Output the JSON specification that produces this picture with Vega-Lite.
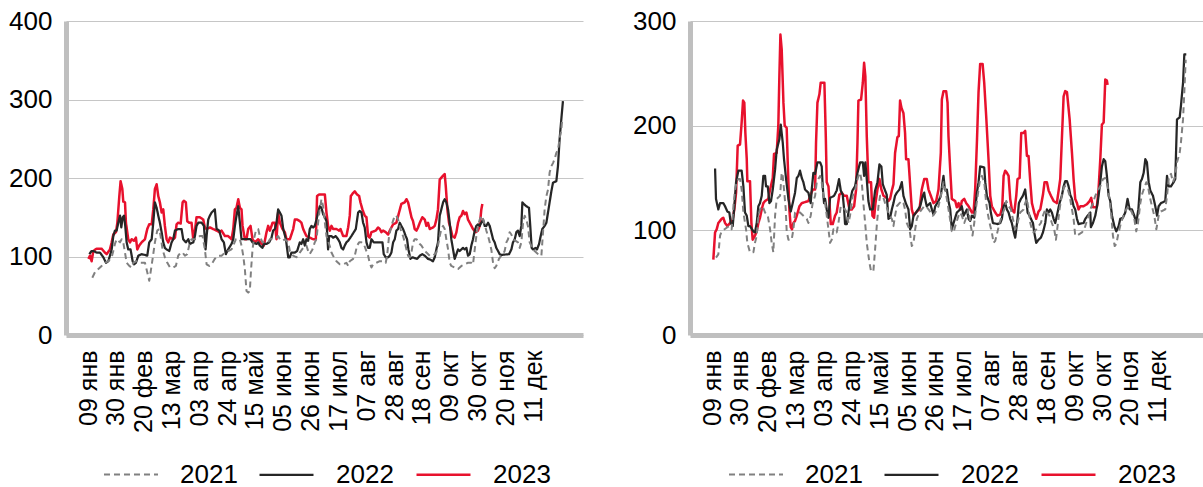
{
"$schema": "https://vega.github.io/schema/vega-lite/v6.json",
"padding": {"left": 0, "top": 8, "right": 0, "bottom": 0},
"background": "white",
"config": {
  "font": "Liberation Sans",
  "view": {"stroke": null},
  "concat": {"spacing": 41},
  "axis": {"labelFont": "Liberation Sans", "labelColor": "#000000", "domainColor": "#bfbfbf", "domainWidth": 5, "ticks": false, "tickSize": 0, "title": null},
  "legend": {"labelFont": "Liberation Sans", "labelColor": "#000000"}
},
"datasets": {
"L": [
{"year":"2023","i":19.3,"v":97},{"year":"2023","i":20.7,"v":101},{"year":"2023","i":22.1,"v":94},{"year":"2023","i":23.6,"v":107},{"year":"2023","i":26.4,"v":110},{"year":"2023","i":30.7,"v":110},{"year":"2023","i":33.6,"v":105},{"year":"2023","i":35.1,"v":103},{"year":"2023","i":37.9,"v":109},{"year":"2023","i":39.4,"v":118},{"year":"2023","i":40.8,"v":128},{"year":"2023","i":43.1,"v":131},{"year":"2023","i":44.3,"v":143},{"year":"2023","i":46,"v":177},{"year":"2023","i":47.1,"v":196},{"year":"2023","i":48.6,"v":186},{"year":"2023","i":49.4,"v":170},{"year":"2023","i":50.9,"v":169},{"year":"2023","i":51.7,"v":143},{"year":"2023","i":53.7,"v":122},{"year":"2023","i":55.2,"v":118},{"year":"2023","i":56.6,"v":122},{"year":"2023","i":58.6,"v":120},{"year":"2023","i":60.3,"v":124},{"year":"2023","i":61.5,"v":109},{"year":"2023","i":63.2,"v":114},{"year":"2023","i":65.2,"v":118},{"year":"2023","i":68.1,"v":122},{"year":"2023","i":70.1,"v":135},{"year":"2023","i":71.8,"v":141},{"year":"2023","i":73.9,"v":141},{"year":"2023","i":75.3,"v":160},{"year":"2023","i":76.7,"v":186},{"year":"2023","i":78.2,"v":192},{"year":"2023","i":79.6,"v":177},{"year":"2023","i":81,"v":169},{"year":"2023","i":82.5,"v":156},{"year":"2023","i":83.9,"v":160},{"year":"2023","i":85.3,"v":139},{"year":"2023","i":86.8,"v":122},{"year":"2023","i":88.2,"v":118},{"year":"2023","i":89.7,"v":124},{"year":"2023","i":92.5,"v":122},{"year":"2023","i":94,"v":124},{"year":"2023","i":95.4,"v":141},{"year":"2023","i":96.8,"v":143},{"year":"2023","i":98.9,"v":142},{"year":"2023","i":100.6,"v":169},{"year":"2023","i":101.7,"v":171},{"year":"2023","i":103.4,"v":169},{"year":"2023","i":104.6,"v":145},{"year":"2023","i":106.3,"v":143},{"year":"2023","i":108.3,"v":143},{"year":"2023","i":109.8,"v":122},{"year":"2023","i":111.2,"v":133},{"year":"2023","i":112.6,"v":150},{"year":"2023","i":115.5,"v":150},{"year":"2023","i":118.4,"v":147},{"year":"2023","i":119.8,"v":137},{"year":"2023","i":121.3,"v":135},{"year":"2023","i":124.1,"v":137},{"year":"2023","i":127,"v":135},{"year":"2023","i":129.9,"v":133},{"year":"2023","i":132.2,"v":131},{"year":"2023","i":134.2,"v":133},{"year":"2023","i":137.1,"v":126},{"year":"2023","i":139.9,"v":126},{"year":"2023","i":142.8,"v":122},{"year":"2023","i":144.3,"v":135},{"year":"2023","i":145.7,"v":160},{"year":"2023","i":147.1,"v":162},{"year":"2023","i":148.6,"v":173},{"year":"2023","i":150,"v":162},{"year":"2023","i":151.4,"v":160},{"year":"2023","i":152.3,"v":139},{"year":"2023","i":154.3,"v":122},{"year":"2023","i":155.7,"v":122},{"year":"2023","i":157.2,"v":135},{"year":"2023","i":159.2,"v":139},{"year":"2023","i":160.9,"v":122},{"year":"2023","i":162.9,"v":118},{"year":"2023","i":165.8,"v":122},{"year":"2023","i":168.7,"v":116},{"year":"2023","i":170.7,"v":114},{"year":"2023","i":173,"v":131},{"year":"2023","i":174.4,"v":139},{"year":"2023","i":175.9,"v":133},{"year":"2023","i":178.2,"v":143},{"year":"2023","i":180.2,"v":143},{"year":"2023","i":181.6,"v":122},{"year":"2023","i":183,"v":156},{"year":"2023","i":184.5,"v":143},{"year":"2023","i":186.8,"v":135},{"year":"2023","i":188.8,"v":131},{"year":"2023","i":190.2,"v":122},{"year":"2023","i":193.1,"v":122},{"year":"2023","i":196,"v":135},{"year":"2023","i":197.4,"v":147},{"year":"2023","i":199.4,"v":147},{"year":"2023","i":201.7,"v":145},{"year":"2023","i":203.1,"v":143},{"year":"2023","i":204.6,"v":135},{"year":"2023","i":207.4,"v":126},{"year":"2023","i":210.3,"v":124},{"year":"2023","i":213.2,"v":122},{"year":"2023","i":215.5,"v":122},{"year":"2023","i":216.6,"v":177},{"year":"2023","i":218.4,"v":179},{"year":"2023","i":223.3,"v":179},{"year":"2023","i":224.7,"v":156},{"year":"2023","i":226.1,"v":139},{"year":"2023","i":227.6,"v":133},{"year":"2023","i":229,"v":139},{"year":"2023","i":230.4,"v":135},{"year":"2023","i":233.3,"v":135},{"year":"2023","i":235.6,"v":133},{"year":"2023","i":236.8,"v":135},{"year":"2023","i":239.1,"v":126},{"year":"2023","i":241.9,"v":126},{"year":"2023","i":243.4,"v":137},{"year":"2023","i":244.8,"v":152},{"year":"2023","i":245.7,"v":177},{"year":"2023","i":247.7,"v":181},{"year":"2023","i":249.1,"v":183},{"year":"2023","i":251.1,"v":179},{"year":"2023","i":252.9,"v":177},{"year":"2023","i":254,"v":169},{"year":"2023","i":255.7,"v":160},{"year":"2023","i":257.7,"v":152},{"year":"2023","i":259.2,"v":150},{"year":"2023","i":260.6,"v":126},{"year":"2023","i":262,"v":124},{"year":"2023","i":263.5,"v":131},{"year":"2023","i":267.2,"v":133},{"year":"2023","i":269.2,"v":137},{"year":"2023","i":270.7,"v":135},{"year":"2023","i":272.1,"v":131},{"year":"2023","i":273.5,"v":133},{"year":"2023","i":275.8,"v":131},{"year":"2023","i":277.9,"v":128},{"year":"2023","i":279.3,"v":133},{"year":"2023","i":282.2,"v":141},{"year":"2023","i":285,"v":143},{"year":"2023","i":287.3,"v":156},{"year":"2023","i":289.3,"v":167},{"year":"2023","i":292.2,"v":169},{"year":"2023","i":293.7,"v":173},{"year":"2023","i":295.1,"v":169},{"year":"2023","i":296.5,"v":160},{"year":"2023","i":298,"v":150},{"year":"2023","i":299.4,"v":145},{"year":"2023","i":300.8,"v":135},{"year":"2023","i":302.3,"v":133},{"year":"2023","i":303.7,"v":137},{"year":"2023","i":305.2,"v":143},{"year":"2023","i":307.4,"v":150},{"year":"2023","i":309.5,"v":147},{"year":"2023","i":310.9,"v":139},{"year":"2023","i":312.3,"v":143},{"year":"2023","i":313.8,"v":135},{"year":"2023","i":316.6,"v":137},{"year":"2023","i":318.1,"v":139},{"year":"2023","i":319.5,"v":147},{"year":"2023","i":320.9,"v":160},{"year":"2023","i":322.4,"v":198},{"year":"2023","i":325.3,"v":203},{"year":"2023","i":326.7,"v":205},{"year":"2023","i":327.6,"v":190},{"year":"2023","i":329,"v":160},{"year":"2023","i":330.4,"v":143},{"year":"2023","i":331.6,"v":137},{"year":"2023","i":333.3,"v":126},{"year":"2023","i":335.3,"v":124},{"year":"2023","i":336.8,"v":131},{"year":"2023","i":338.2,"v":143},{"year":"2023","i":339.6,"v":150},{"year":"2023","i":341.1,"v":152},{"year":"2023","i":342.5,"v":158},{"year":"2023","i":343.9,"v":154},{"year":"2023","i":345.4,"v":156},{"year":"2023","i":346.8,"v":147},{"year":"2023","i":348.3,"v":143},{"year":"2023","i":349.7,"v":139},{"year":"2023","i":351.1,"v":135},{"year":"2023","i":353.4,"v":131},{"year":"2023","i":355.4,"v":133},{"year":"2023","i":356.9,"v":139},{"year":"2023","i":358.3,"v":160},{"year":"2023","i":359.2,"v":167},
{"year":"2022","i":20.1,"v":103},{"year":"2022","i":22.1,"v":107},{"year":"2022","i":23.6,"v":107},{"year":"2022","i":26.4,"v":105},{"year":"2022","i":29.3,"v":105},{"year":"2022","i":32.2,"v":99},{"year":"2022","i":34.5,"v":92},{"year":"2022","i":36.5,"v":94},{"year":"2022","i":37.9,"v":101},{"year":"2022","i":39.4,"v":109},{"year":"2022","i":40.8,"v":126},{"year":"2022","i":42.2,"v":133},{"year":"2022","i":43.7,"v":133},{"year":"2022","i":45.1,"v":143},{"year":"2022","i":46.6,"v":152},{"year":"2022","i":47.7,"v":137},{"year":"2022","i":48.9,"v":150},{"year":"2022","i":50,"v":152},{"year":"2022","i":51.1,"v":139},{"year":"2022","i":52.3,"v":118},{"year":"2022","i":53.7,"v":109},{"year":"2022","i":55.7,"v":109},{"year":"2022","i":57.5,"v":94},{"year":"2022","i":58.6,"v":90},{"year":"2022","i":60.3,"v":92},{"year":"2022","i":62.4,"v":101},{"year":"2022","i":65.2,"v":103},{"year":"2022","i":68.1,"v":102},{"year":"2022","i":70.1,"v":101},{"year":"2022","i":71.8,"v":118},{"year":"2022","i":73.9,"v":122},{"year":"2022","i":75.3,"v":143},{"year":"2022","i":76.7,"v":169},{"year":"2022","i":78.2,"v":162},{"year":"2022","i":79.6,"v":152},{"year":"2022","i":81,"v":143},{"year":"2022","i":82.5,"v":131},{"year":"2022","i":83.9,"v":118},{"year":"2022","i":85.3,"v":111},{"year":"2022","i":86.8,"v":109},{"year":"2022","i":89.1,"v":107},{"year":"2022","i":91.1,"v":118},{"year":"2022","i":92.5,"v":122},{"year":"2022","i":94,"v":133},{"year":"2022","i":96.8,"v":135},{"year":"2022","i":99.7,"v":135},{"year":"2022","i":101.1,"v":122},{"year":"2022","i":103.4,"v":118},{"year":"2022","i":105.5,"v":122},{"year":"2022","i":106.9,"v":116},{"year":"2022","i":109.8,"v":118},{"year":"2022","i":111.2,"v":126},{"year":"2022","i":112.6,"v":139},{"year":"2022","i":114.1,"v":143},{"year":"2022","i":117,"v":143},{"year":"2022","i":119,"v":139},{"year":"2022","i":120.4,"v":109},{"year":"2022","i":121.3,"v":126},{"year":"2022","i":122.7,"v":147},{"year":"2022","i":124.1,"v":152},{"year":"2022","i":125.6,"v":156},{"year":"2022","i":127,"v":158},{"year":"2022","i":128.4,"v":160},{"year":"2022","i":129.9,"v":135},{"year":"2022","i":132.2,"v":133},{"year":"2022","i":134.2,"v":122},{"year":"2022","i":136.2,"v":118},{"year":"2022","i":137.9,"v":103},{"year":"2022","i":139.9,"v":109},{"year":"2022","i":142.8,"v":116},{"year":"2022","i":144.3,"v":122},{"year":"2022","i":145.7,"v":139},{"year":"2022","i":147.1,"v":152},{"year":"2022","i":148.6,"v":164},{"year":"2022","i":150,"v":143},{"year":"2022","i":151.4,"v":122},{"year":"2022","i":154.3,"v":122},{"year":"2022","i":159.2,"v":122},{"year":"2022","i":160.9,"v":118},{"year":"2022","i":164.4,"v":116},{"year":"2022","i":165.8,"v":118},{"year":"2022","i":167.2,"v":114},{"year":"2022","i":169.5,"v":111},{"year":"2022","i":170.7,"v":116},{"year":"2022","i":173,"v":116},{"year":"2022","i":175.3,"v":118},{"year":"2022","i":177.3,"v":124},{"year":"2022","i":178.7,"v":133},{"year":"2022","i":180.2,"v":135},{"year":"2022","i":181.6,"v":143},{"year":"2022","i":183,"v":160},{"year":"2022","i":184.5,"v":156},{"year":"2022","i":185.9,"v":152},{"year":"2022","i":187.4,"v":135},{"year":"2022","i":189.7,"v":122},{"year":"2022","i":191.7,"v":99},{"year":"2022","i":193.1,"v":99},{"year":"2022","i":194.5,"v":105},{"year":"2022","i":197.4,"v":105},{"year":"2022","i":199.4,"v":107},{"year":"2022","i":201.7,"v":118},{"year":"2022","i":203.1,"v":116},{"year":"2022","i":204.6,"v":122},{"year":"2022","i":206,"v":114},{"year":"2022","i":207.4,"v":122},{"year":"2022","i":208.9,"v":120},{"year":"2022","i":210.3,"v":135},{"year":"2022","i":211.8,"v":139},{"year":"2022","i":213.2,"v":137},{"year":"2022","i":214.6,"v":139},{"year":"2022","i":216.1,"v":147},{"year":"2022","i":217.5,"v":156},{"year":"2022","i":218.9,"v":164},{"year":"2022","i":220.4,"v":162},{"year":"2022","i":221.8,"v":154},{"year":"2022","i":223.3,"v":150},{"year":"2022","i":224.7,"v":145},{"year":"2022","i":226.1,"v":109},{"year":"2022","i":227,"v":126},{"year":"2022","i":229,"v":126},{"year":"2022","i":230.4,"v":124},{"year":"2022","i":232.7,"v":126},{"year":"2022","i":234.7,"v":122},{"year":"2022","i":236.2,"v":118},{"year":"2022","i":237.6,"v":111},{"year":"2022","i":239.1,"v":109},{"year":"2022","i":240.5,"v":114},{"year":"2022","i":241.9,"v":118},{"year":"2022","i":243.4,"v":120},{"year":"2022","i":246.2,"v":126},{"year":"2022","i":248.3,"v":131},{"year":"2022","i":250,"v":135},{"year":"2022","i":252,"v":156},{"year":"2022","i":253.4,"v":158},{"year":"2022","i":254.9,"v":156},{"year":"2022","i":256.3,"v":143},{"year":"2022","i":257.7,"v":137},{"year":"2022","i":259.2,"v":118},{"year":"2022","i":260.6,"v":111},{"year":"2022","i":262,"v":111},{"year":"2022","i":263.5,"v":122},{"year":"2022","i":265.5,"v":118},{"year":"2022","i":273,"v":118},{"year":"2022","i":274.1,"v":103},{"year":"2022","i":275.8,"v":99},{"year":"2022","i":277.9,"v":99},{"year":"2022","i":279.3,"v":101},{"year":"2022","i":280.7,"v":105},{"year":"2022","i":282.2,"v":118},{"year":"2022","i":283.6,"v":122},{"year":"2022","i":285,"v":133},{"year":"2022","i":286.5,"v":135},{"year":"2022","i":287.9,"v":143},{"year":"2022","i":289.3,"v":139},{"year":"2022","i":290.8,"v":135},{"year":"2022","i":293.1,"v":126},{"year":"2022","i":294.2,"v":122},{"year":"2022","i":295.4,"v":109},{"year":"2022","i":297.1,"v":97},{"year":"2022","i":298.8,"v":99},{"year":"2022","i":302.9,"v":97},{"year":"2022","i":305.2,"v":101},{"year":"2022","i":307.4,"v":103},{"year":"2022","i":309.5,"v":101},{"year":"2022","i":312.3,"v":97},{"year":"2022","i":314.3,"v":96},{"year":"2022","i":316.6,"v":94},{"year":"2022","i":318.1,"v":99},{"year":"2022","i":319.5,"v":109},{"year":"2022","i":320.9,"v":118},{"year":"2022","i":322.4,"v":152},{"year":"2022","i":323.8,"v":160},{"year":"2022","i":325.3,"v":169},{"year":"2022","i":326.7,"v":173},{"year":"2022","i":328.1,"v":169},{"year":"2022","i":329.6,"v":160},{"year":"2022","i":331,"v":143},{"year":"2022","i":332.4,"v":122},{"year":"2022","i":333.9,"v":109},{"year":"2022","i":335.3,"v":97},{"year":"2022","i":336.8,"v":103},{"year":"2022","i":338.2,"v":109},{"year":"2022","i":339.6,"v":107},{"year":"2022","i":342.5,"v":111},{"year":"2022","i":343.9,"v":109},{"year":"2022","i":345.4,"v":111},{"year":"2022","i":346.8,"v":101},{"year":"2022","i":348.3,"v":103},{"year":"2022","i":349.7,"v":114},{"year":"2022","i":351.1,"v":122},{"year":"2022","i":352.6,"v":133},{"year":"2022","i":354,"v":139},{"year":"2022","i":355.4,"v":141},{"year":"2022","i":356.9,"v":139},{"year":"2022","i":358.3,"v":143},{"year":"2022","i":359.8,"v":147},{"year":"2022","i":361.2,"v":139},{"year":"2022","i":362.6,"v":139},{"year":"2022","i":364.1,"v":143},{"year":"2022","i":365.5,"v":139},{"year":"2022","i":366.9,"v":131},{"year":"2022","i":368.4,"v":122},{"year":"2022","i":369.8,"v":118},{"year":"2022","i":371.2,"v":111},{"year":"2022","i":372.7,"v":107},{"year":"2022","i":374.1,"v":103},{"year":"2022","i":375.5,"v":102},{"year":"2022","i":382.2,"v":103},{"year":"2022","i":384.2,"v":109},{"year":"2022","i":385.6,"v":118},{"year":"2022","i":387.1,"v":122},{"year":"2022","i":388.5,"v":131},{"year":"2022","i":389.9,"v":133},{"year":"2022","i":391.4,"v":126},{"year":"2022","i":392.8,"v":139},{"year":"2022","i":393.7,"v":169},{"year":"2022","i":394.8,"v":167},{"year":"2022","i":397.1,"v":164},{"year":"2022","i":399.4,"v":162},{"year":"2022","i":400.6,"v":137},{"year":"2022","i":401.7,"v":111},{"year":"2022","i":402.9,"v":109},{"year":"2022","i":405.2,"v":111},{"year":"2022","i":406.3,"v":109},{"year":"2022","i":408.1,"v":116},{"year":"2022","i":409.2,"v":124},{"year":"2022","i":410.9,"v":135},{"year":"2022","i":412.9,"v":139},{"year":"2022","i":414.4,"v":143},{"year":"2022","i":415.8,"v":156},{"year":"2022","i":417.2,"v":169},{"year":"2022","i":418.7,"v":183},{"year":"2022","i":420.1,"v":194},{"year":"2022","i":423,"v":196},{"year":"2022","i":424.4,"v":215},{"year":"2022","i":425.8,"v":249},{"year":"2022","i":427.3,"v":275},{"year":"2022","i":428.7,"v":298},
{"year":"2021","i":22.7,"v":73},{"year":"2021","i":25,"v":80},{"year":"2021","i":27.9,"v":84},{"year":"2021","i":30.7,"v":88},{"year":"2021","i":33.6,"v":92},{"year":"2021","i":36.5,"v":94},{"year":"2021","i":39.4,"v":99},{"year":"2021","i":40.8,"v":107},{"year":"2021","i":42.2,"v":116},{"year":"2021","i":43.7,"v":122},{"year":"2021","i":45.1,"v":120},{"year":"2021","i":46.6,"v":118},{"year":"2021","i":48,"v":122},{"year":"2021","i":49.4,"v":118},{"year":"2021","i":50.9,"v":105},{"year":"2021","i":52.3,"v":92},{"year":"2021","i":54.6,"v":88},{"year":"2021","i":56.6,"v":86},{"year":"2021","i":58,"v":92},{"year":"2021","i":60.9,"v":94},{"year":"2021","i":63.8,"v":92},{"year":"2021","i":68.1,"v":92},{"year":"2021","i":70.1,"v":80},{"year":"2021","i":71.8,"v":69},{"year":"2021","i":73,"v":80},{"year":"2021","i":74.7,"v":97},{"year":"2021","i":76.7,"v":118},{"year":"2021","i":78.7,"v":133},{"year":"2021","i":80.5,"v":135},{"year":"2021","i":81.6,"v":126},{"year":"2021","i":83.3,"v":109},{"year":"2021","i":85.3,"v":99},{"year":"2021","i":87.4,"v":92},{"year":"2021","i":89.7,"v":86},{"year":"2021","i":92.5,"v":86},{"year":"2021","i":94.8,"v":88},{"year":"2021","i":96.8,"v":101},{"year":"2021","i":98.9,"v":105},{"year":"2021","i":100.6,"v":105},{"year":"2021","i":102.6,"v":101},{"year":"2021","i":104.6,"v":103},{"year":"2021","i":106.9,"v":118},{"year":"2021","i":108.3,"v":122},{"year":"2021","i":112.6,"v":122},{"year":"2021","i":115.5,"v":126},{"year":"2021","i":117.8,"v":126},{"year":"2021","i":119.8,"v":109},{"year":"2021","i":121.3,"v":90},{"year":"2021","i":123.6,"v":88},{"year":"2021","i":125.6,"v":90},{"year":"2021","i":128.4,"v":97},{"year":"2021","i":131.3,"v":101},{"year":"2021","i":134.2,"v":101},{"year":"2021","i":137.1,"v":105},{"year":"2021","i":139.9,"v":107},{"year":"2021","i":142.8,"v":109},{"year":"2021","i":144.3,"v":114},{"year":"2021","i":146.6,"v":122},{"year":"2021","i":150,"v":122},{"year":"2021","i":151.4,"v":114},{"year":"2021","i":152.9,"v":101},{"year":"2021","i":154.3,"v":84},{"year":"2021","i":155.7,"v":56},{"year":"2021","i":157.2,"v":54},{"year":"2021","i":158.6,"v":56},{"year":"2021","i":159.5,"v":80},{"year":"2021","i":160.9,"v":109},{"year":"2021","i":162.1,"v":122},{"year":"2021","i":163.8,"v":133},{"year":"2021","i":165.8,"v":135},{"year":"2021","i":167.2,"v":126},{"year":"2021","i":169.5,"v":118},{"year":"2021","i":174.4,"v":118},{"year":"2021","i":175.9,"v":122},{"year":"2021","i":181.6,"v":124},{"year":"2021","i":183,"v":126},{"year":"2021","i":184.5,"v":122},{"year":"2021","i":186.8,"v":120},{"year":"2021","i":188.8,"v":122},{"year":"2021","i":191.7,"v":118},{"year":"2021","i":193.1,"v":107},{"year":"2021","i":196,"v":101},{"year":"2021","i":198.9,"v":99},{"year":"2021","i":201.7,"v":105},{"year":"2021","i":204.6,"v":111},{"year":"2021","i":207.4,"v":114},{"year":"2021","i":208.9,"v":107},{"year":"2021","i":210.3,"v":103},{"year":"2021","i":212.6,"v":109},{"year":"2021","i":214.6,"v":118},{"year":"2021","i":216.1,"v":122},{"year":"2021","i":217.5,"v":143},{"year":"2021","i":218.9,"v":160},{"year":"2021","i":220.4,"v":173},{"year":"2021","i":221.8,"v":164},{"year":"2021","i":223.3,"v":143},{"year":"2021","i":224.7,"v":126},{"year":"2021","i":227.6,"v":113},{"year":"2021","i":229,"v":105},{"year":"2021","i":230.4,"v":101},{"year":"2021","i":233.3,"v":94},{"year":"2021","i":236.2,"v":90},{"year":"2021","i":239.1,"v":90},{"year":"2021","i":241.9,"v":92},{"year":"2021","i":243.4,"v":88},{"year":"2021","i":244.8,"v":94},{"year":"2021","i":247.7,"v":97},{"year":"2021","i":249.1,"v":101},{"year":"2021","i":251.1,"v":114},{"year":"2021","i":252.9,"v":118},{"year":"2021","i":254.9,"v":118},{"year":"2021","i":256.9,"v":116},{"year":"2021","i":258.6,"v":109},{"year":"2021","i":260.6,"v":101},{"year":"2021","i":262,"v":92},{"year":"2021","i":263.5,"v":86},{"year":"2021","i":264.9,"v":90},{"year":"2021","i":267.8,"v":92},{"year":"2021","i":270.7,"v":94},{"year":"2021","i":273.5,"v":94},{"year":"2021","i":275.8,"v":92},{"year":"2021","i":277,"v":101},{"year":"2021","i":278.7,"v":126},{"year":"2021","i":280.7,"v":139},{"year":"2021","i":283.6,"v":152},{"year":"2021","i":285,"v":152},{"year":"2021","i":286.5,"v":147},{"year":"2021","i":287.9,"v":139},{"year":"2021","i":289.3,"v":131},{"year":"2021","i":290.8,"v":126},{"year":"2021","i":292.2,"v":118},{"year":"2021","i":293.7,"v":109},{"year":"2021","i":295.1,"v":101},{"year":"2021","i":296.5,"v":99},{"year":"2021","i":298,"v":105},{"year":"2021","i":299.4,"v":118},{"year":"2021","i":300.8,"v":122},{"year":"2021","i":302.3,"v":122},{"year":"2021","i":303.7,"v":120},{"year":"2021","i":305.2,"v":116},{"year":"2021","i":306.6,"v":114},{"year":"2021","i":308.6,"v":109},{"year":"2021","i":310.9,"v":105},{"year":"2021","i":313.8,"v":101},{"year":"2021","i":316.6,"v":101},{"year":"2021","i":319.5,"v":105},{"year":"2021","i":320.9,"v":114},{"year":"2021","i":322.4,"v":126},{"year":"2021","i":323.8,"v":135},{"year":"2021","i":325.3,"v":139},{"year":"2021","i":326.7,"v":135},{"year":"2021","i":328.1,"v":122},{"year":"2021","i":329.6,"v":109},{"year":"2021","i":331,"v":92},{"year":"2021","i":332.4,"v":88},{"year":"2021","i":335.3,"v":86},{"year":"2021","i":338.2,"v":84},{"year":"2021","i":341.1,"v":88},{"year":"2021","i":343.9,"v":90},{"year":"2021","i":346.8,"v":92},{"year":"2021","i":349.7,"v":92},{"year":"2021","i":351.1,"v":90},{"year":"2021","i":352.6,"v":109},{"year":"2021","i":354,"v":126},{"year":"2021","i":355.4,"v":139},{"year":"2021","i":356.9,"v":147},{"year":"2021","i":358.3,"v":152},{"year":"2021","i":359.8,"v":147},{"year":"2021","i":361.2,"v":141},{"year":"2021","i":362.6,"v":133},{"year":"2021","i":364.1,"v":126},{"year":"2021","i":365.5,"v":118},{"year":"2021","i":366.9,"v":109},{"year":"2021","i":368.4,"v":92},{"year":"2021","i":369.8,"v":85},{"year":"2021","i":371.2,"v":88},{"year":"2021","i":373.5,"v":97},{"year":"2021","i":375.5,"v":101},{"year":"2021","i":377,"v":103},{"year":"2021","i":378.4,"v":107},{"year":"2021","i":379.9,"v":118},{"year":"2021","i":381.3,"v":122},{"year":"2021","i":382.7,"v":131},{"year":"2021","i":384.2,"v":128},{"year":"2021","i":385.6,"v":122},{"year":"2021","i":387.9,"v":120},{"year":"2021","i":389.9,"v":118},{"year":"2021","i":391.4,"v":111},{"year":"2021","i":392.8,"v":118},{"year":"2021","i":394.3,"v":143},{"year":"2021","i":395.7,"v":152},{"year":"2021","i":397.1,"v":147},{"year":"2021","i":398.5,"v":139},{"year":"2021","i":400,"v":118},{"year":"2021","i":402.9,"v":109},{"year":"2021","i":405.7,"v":105},{"year":"2021","i":408.6,"v":101},{"year":"2021","i":410.1,"v":101},{"year":"2021","i":410.9,"v":118},{"year":"2021","i":412.9,"v":160},{"year":"2021","i":414.4,"v":177},{"year":"2021","i":415.8,"v":185},{"year":"2021","i":417.2,"v":207},{"year":"2021","i":418.7,"v":215},{"year":"2021","i":420.1,"v":219},{"year":"2021","i":421.5,"v":224},{"year":"2021","i":423,"v":232},{"year":"2021","i":424.4,"v":236},{"year":"2021","i":425.8,"v":250},{"year":"2021","i":427.3,"v":262},{"year":"2021","i":428.1,"v":275}
],
"R": [
{"year":"2023","i":20.1,"v":72},{"year":"2023","i":21.6,"v":98},{"year":"2023","i":23,"v":101},{"year":"2023","i":24.4,"v":107},{"year":"2023","i":27.3,"v":111},{"year":"2023","i":28.7,"v":112},{"year":"2023","i":30.2,"v":107},{"year":"2023","i":32.2,"v":104},{"year":"2023","i":34.5,"v":107},{"year":"2023","i":36.8,"v":111},{"year":"2023","i":38.2,"v":120},{"year":"2023","i":39.7,"v":136},{"year":"2023","i":41.1,"v":181},{"year":"2023","i":43.1,"v":182},{"year":"2023","i":44.5,"v":203},{"year":"2023","i":45.7,"v":224},{"year":"2023","i":46.8,"v":222},{"year":"2023","i":47.7,"v":193},{"year":"2023","i":48.9,"v":168},{"year":"2023","i":49.4,"v":147},{"year":"2023","i":51.7,"v":147},{"year":"2023","i":52.9,"v":107},{"year":"2023","i":54,"v":91},{"year":"2023","i":56,"v":95},{"year":"2023","i":57.5,"v":99},{"year":"2023","i":58.9,"v":107},{"year":"2023","i":60.3,"v":112},{"year":"2023","i":61.8,"v":120},{"year":"2023","i":63.2,"v":126},{"year":"2023","i":64.7,"v":128},{"year":"2023","i":67.5,"v":130},{"year":"2023","i":69,"v":139},{"year":"2023","i":71.3,"v":150},{"year":"2023","i":72.4,"v":173},{"year":"2023","i":74.7,"v":174},{"year":"2023","i":76.1,"v":200},{"year":"2023","i":77,"v":247},{"year":"2023","i":77.9,"v":287},{"year":"2023","i":79,"v":273},{"year":"2023","i":80.5,"v":222},{"year":"2023","i":81.6,"v":200},{"year":"2023","i":83.3,"v":198},{"year":"2023","i":84.2,"v":165},{"year":"2023","i":85.6,"v":120},{"year":"2023","i":86.8,"v":103},{"year":"2023","i":87.9,"v":101},{"year":"2023","i":89.1,"v":107},{"year":"2023","i":90.5,"v":109},{"year":"2023","i":92,"v":114},{"year":"2023","i":94.3,"v":123},{"year":"2023","i":96.3,"v":126},{"year":"2023","i":102,"v":128},{"year":"2023","i":104,"v":134},{"year":"2023","i":105.7,"v":139},{"year":"2023","i":107.8,"v":139},{"year":"2023","i":108.6,"v":184},{"year":"2023","i":109.8,"v":222},{"year":"2023","i":111.5,"v":230},{"year":"2023","i":112.6,"v":241},{"year":"2023","i":115.8,"v":241},{"year":"2023","i":117,"v":190},{"year":"2023","i":117.8,"v":146},{"year":"2023","i":119.3,"v":142},{"year":"2023","i":121.3,"v":106},{"year":"2023","i":123,"v":106},{"year":"2023","i":125,"v":114},{"year":"2023","i":126.4,"v":117},{"year":"2023","i":128.7,"v":134},{"year":"2023","i":130.7,"v":136},{"year":"2023","i":132.8,"v":133},{"year":"2023","i":135.1,"v":133},{"year":"2023","i":137.4,"v":120},{"year":"2023","i":139.4,"v":120},{"year":"2023","i":141.4,"v":123},{"year":"2023","i":143.1,"v":139},{"year":"2023","i":144.3,"v":184},{"year":"2023","i":145.1,"v":224},{"year":"2023","i":147.4,"v":225},{"year":"2023","i":148.9,"v":241},{"year":"2023","i":150,"v":260},{"year":"2023","i":151.1,"v":247},{"year":"2023","i":152.3,"v":190},{"year":"2023","i":153.7,"v":146},{"year":"2023","i":156,"v":146},{"year":"2023","i":157.2,"v":114},{"year":"2023","i":158.6,"v":112},{"year":"2023","i":159.8,"v":126},{"year":"2023","i":161.5,"v":139},{"year":"2023","i":163.2,"v":149},{"year":"2023","i":164.9,"v":139},{"year":"2023","i":166.7,"v":133},{"year":"2023","i":169.5,"v":131},{"year":"2023","i":171,"v":128},{"year":"2023","i":172.4,"v":130},{"year":"2023","i":173.9,"v":138},{"year":"2023","i":175.3,"v":144},{"year":"2023","i":176.7,"v":174},{"year":"2023","i":178.7,"v":189},{"year":"2023","i":179.9,"v":190},{"year":"2023","i":181,"v":224},{"year":"2023","i":182.2,"v":217},{"year":"2023","i":183.9,"v":212},{"year":"2023","i":185.3,"v":193},{"year":"2023","i":186.2,"v":168},{"year":"2023","i":188.2,"v":168},{"year":"2023","i":191.1,"v":120},{"year":"2023","i":192.6,"v":114},{"year":"2023","i":195.4,"v":118},{"year":"2023","i":197.7,"v":120},{"year":"2023","i":199.7,"v":139},{"year":"2023","i":201.8,"v":149},{"year":"2023","i":204,"v":149},{"year":"2023","i":205.5,"v":139},{"year":"2023","i":207.5,"v":133},{"year":"2023","i":209.8,"v":126},{"year":"2023","i":212.1,"v":128},{"year":"2023","i":214.1,"v":139},{"year":"2023","i":216.1,"v":174},{"year":"2023","i":217,"v":225},{"year":"2023","i":218.4,"v":233},{"year":"2023","i":220.7,"v":233},{"year":"2023","i":221.9,"v":222},{"year":"2023","i":222.7,"v":190},{"year":"2023","i":224.2,"v":158},{"year":"2023","i":225.6,"v":130},{"year":"2023","i":228.5,"v":128},{"year":"2023","i":229.9,"v":122},{"year":"2023","i":231.4,"v":126},{"year":"2023","i":232.8,"v":120},{"year":"2023","i":234.2,"v":128},{"year":"2023","i":236.3,"v":130},{"year":"2023","i":238,"v":126},{"year":"2023","i":240,"v":123},{"year":"2023","i":242.9,"v":117},{"year":"2023","i":244.3,"v":117},{"year":"2023","i":245.7,"v":139},{"year":"2023","i":247.2,"v":184},{"year":"2023","i":248.6,"v":232},{"year":"2023","i":250,"v":259},{"year":"2023","i":252.1,"v":259},{"year":"2023","i":253.5,"v":241},{"year":"2023","i":255.2,"v":209},{"year":"2023","i":257.2,"v":168},{"year":"2023","i":258.7,"v":133},{"year":"2023","i":260.1,"v":123},{"year":"2023","i":263,"v":117},{"year":"2023","i":265,"v":114},{"year":"2023","i":267.3,"v":115},{"year":"2023","i":269,"v":122},{"year":"2023","i":270.2,"v":152},{"year":"2023","i":271.6,"v":157},{"year":"2023","i":273,"v":155},{"year":"2023","i":274.5,"v":152},{"year":"2023","i":275.9,"v":130},{"year":"2023","i":277.3,"v":120},{"year":"2023","i":279.4,"v":117},{"year":"2023","i":281.1,"v":133},{"year":"2023","i":282.2,"v":149},{"year":"2023","i":284,"v":150},{"year":"2023","i":285.4,"v":193},{"year":"2023","i":287.4,"v":193},{"year":"2023","i":288.8,"v":195},{"year":"2023","i":290.3,"v":171},{"year":"2023","i":291.7,"v":171},{"year":"2023","i":293.2,"v":146},{"year":"2023","i":294.6,"v":126},{"year":"2023","i":296.6,"v":117},{"year":"2023","i":298.3,"v":111},{"year":"2023","i":300.3,"v":118},{"year":"2023","i":301.8,"v":120},{"year":"2023","i":304.1,"v":134},{"year":"2023","i":305.5,"v":146},{"year":"2023","i":307.5,"v":146},{"year":"2023","i":309,"v":138},{"year":"2023","i":311,"v":133},{"year":"2023","i":313.3,"v":128},{"year":"2023","i":316.1,"v":126},{"year":"2023","i":319,"v":149},{"year":"2023","i":320.4,"v":187},{"year":"2023","i":321.9,"v":228},{"year":"2023","i":323.3,"v":233},{"year":"2023","i":324.8,"v":232},{"year":"2023","i":327.1,"v":206},{"year":"2023","i":329.1,"v":174},{"year":"2023","i":330.5,"v":149},{"year":"2023","i":331.9,"v":130},{"year":"2023","i":333.4,"v":126},{"year":"2023","i":334.8,"v":120},{"year":"2023","i":336.3,"v":123},{"year":"2023","i":339.1,"v":123},{"year":"2023","i":342,"v":125},{"year":"2023","i":344.3,"v":128},{"year":"2023","i":345.7,"v":131},{"year":"2023","i":347.2,"v":122},{"year":"2023","i":349.2,"v":122},{"year":"2023","i":350.6,"v":123},{"year":"2023","i":352,"v":139},{"year":"2023","i":353.5,"v":168},{"year":"2023","i":354.9,"v":201},{"year":"2023","i":356.4,"v":203},{"year":"2023","i":357.8,"v":244},{"year":"2023","i":359.2,"v":243},{"year":"2023","i":359.8,"v":239},
{"year":"2022","i":21.6,"v":159},{"year":"2022","i":22.4,"v":130},{"year":"2022","i":24.4,"v":120},{"year":"2022","i":25.9,"v":126},{"year":"2022","i":28.7,"v":126},{"year":"2022","i":30.2,"v":123},{"year":"2022","i":32.2,"v":118},{"year":"2022","i":33.9,"v":117},{"year":"2022","i":35.1,"v":107},{"year":"2022","i":36.8,"v":104},{"year":"2022","i":38.2,"v":123},{"year":"2022","i":39.7,"v":146},{"year":"2022","i":41.7,"v":157},{"year":"2022","i":44.5,"v":157},{"year":"2022","i":46,"v":142},{"year":"2022","i":47.4,"v":117},{"year":"2022","i":48.9,"v":114},{"year":"2022","i":50.3,"v":104},{"year":"2022","i":51.7,"v":104},{"year":"2022","i":54.6,"v":99},{"year":"2022","i":56,"v":98},{"year":"2022","i":57.5,"v":107},{"year":"2022","i":58.9,"v":123},{"year":"2022","i":60.3,"v":126},{"year":"2022","i":61.8,"v":133},{"year":"2022","i":63.2,"v":152},{"year":"2022","i":64.7,"v":152},{"year":"2022","i":65.5,"v":142},{"year":"2022","i":67,"v":142},{"year":"2022","i":68.4,"v":126},{"year":"2022","i":69.8,"v":128},{"year":"2022","i":71.3,"v":139},{"year":"2022","i":73.3,"v":158},{"year":"2022","i":74.7,"v":177},{"year":"2022","i":77,"v":187},{"year":"2022","i":78.2,"v":201},{"year":"2022","i":79.9,"v":184},{"year":"2022","i":81,"v":168},{"year":"2022","i":82.8,"v":149},{"year":"2022","i":84.8,"v":130},{"year":"2022","i":86.8,"v":118},{"year":"2022","i":88.5,"v":126},{"year":"2022","i":90.5,"v":136},{"year":"2022","i":92,"v":150},{"year":"2022","i":93.4,"v":152},{"year":"2022","i":94.8,"v":157},{"year":"2022","i":96.3,"v":150},{"year":"2022","i":97.7,"v":146},{"year":"2022","i":99.1,"v":139},{"year":"2022","i":102,"v":136},{"year":"2022","i":104,"v":126},{"year":"2022","i":104.9,"v":139},{"year":"2022","i":106.3,"v":155},{"year":"2022","i":107.8,"v":154},{"year":"2022","i":109.8,"v":165},{"year":"2022","i":112.1,"v":165},{"year":"2022","i":113.5,"v":161},{"year":"2022","i":114.4,"v":141},{"year":"2022","i":115.5,"v":126},{"year":"2022","i":116.4,"v":130},{"year":"2022","i":117.8,"v":120},{"year":"2022","i":119.3,"v":112},{"year":"2022","i":120.7,"v":131},{"year":"2022","i":124.1,"v":133},{"year":"2022","i":126.4,"v":138},{"year":"2022","i":128.4,"v":149},{"year":"2022","i":129.9,"v":138},{"year":"2022","i":131.6,"v":134},{"year":"2022","i":132.8,"v":120},{"year":"2022","i":133.6,"v":106},{"year":"2022","i":135.1,"v":106},{"year":"2022","i":136.5,"v":117},{"year":"2022","i":137.9,"v":128},{"year":"2022","i":139.9,"v":138},{"year":"2022","i":142.2,"v":142},{"year":"2022","i":144.3,"v":155},{"year":"2022","i":146.6,"v":165},{"year":"2022","i":148.9,"v":165},{"year":"2022","i":150,"v":152},{"year":"2022","i":151.1,"v":165},{"year":"2022","i":152.3,"v":149},{"year":"2022","i":153.7,"v":128},{"year":"2022","i":155.2,"v":120},{"year":"2022","i":157.5,"v":120},{"year":"2022","i":159.5,"v":138},{"year":"2022","i":161.5,"v":146},{"year":"2022","i":163.2,"v":163},{"year":"2022","i":164.9,"v":161},{"year":"2022","i":166.1,"v":144},{"year":"2022","i":168.1,"v":138},{"year":"2022","i":169.5,"v":134},{"year":"2022","i":171,"v":111},{"year":"2022","i":172.4,"v":112},{"year":"2022","i":173.9,"v":120},{"year":"2022","i":175.3,"v":126},{"year":"2022","i":176.7,"v":133},{"year":"2022","i":178.2,"v":136},{"year":"2022","i":180.5,"v":139},{"year":"2022","i":182.5,"v":146},{"year":"2022","i":183.9,"v":133},{"year":"2022","i":185.9,"v":126},{"year":"2022","i":188.2,"v":120},{"year":"2022","i":189.7,"v":101},{"year":"2022","i":191.1,"v":104},{"year":"2022","i":192.6,"v":114},{"year":"2022","i":195.4,"v":118},{"year":"2022","i":198.3,"v":123},{"year":"2022","i":200.6,"v":133},{"year":"2022","i":201.8,"v":136},{"year":"2022","i":202.6,"v":130},{"year":"2022","i":204,"v":123},{"year":"2022","i":206.9,"v":126},{"year":"2022","i":208.4,"v":120},{"year":"2022","i":209.8,"v":115},{"year":"2022","i":211.3,"v":123},{"year":"2022","i":214.1,"v":128},{"year":"2022","i":216.1,"v":133},{"year":"2022","i":217.3,"v":144},{"year":"2022","i":218.4,"v":152},{"year":"2022","i":219.6,"v":139},{"year":"2022","i":221.3,"v":139},{"year":"2022","i":222.7,"v":128},{"year":"2022","i":224.2,"v":120},{"year":"2022","i":225.6,"v":101},{"year":"2022","i":227.1,"v":107},{"year":"2022","i":229.9,"v":117},{"year":"2022","i":232.8,"v":120},{"year":"2022","i":234.2,"v":123},{"year":"2022","i":235.7,"v":114},{"year":"2022","i":238.6,"v":120},{"year":"2022","i":240,"v":111},{"year":"2022","i":241.4,"v":109},{"year":"2022","i":242.9,"v":114},{"year":"2022","i":244.9,"v":112},{"year":"2022","i":245.7,"v":120},{"year":"2022","i":247.2,"v":136},{"year":"2022","i":248.6,"v":146},{"year":"2022","i":250,"v":161},{"year":"2022","i":253.5,"v":160},{"year":"2022","i":254.4,"v":146},{"year":"2022","i":255.8,"v":133},{"year":"2022","i":258.1,"v":126},{"year":"2022","i":259.2,"v":117},{"year":"2022","i":261,"v":107},{"year":"2022","i":265,"v":106},{"year":"2022","i":267.3,"v":107},{"year":"2022","i":268.7,"v":111},{"year":"2022","i":270.2,"v":123},{"year":"2022","i":271.6,"v":126},{"year":"2022","i":273,"v":120},{"year":"2022","i":274.5,"v":117},{"year":"2022","i":275.9,"v":111},{"year":"2022","i":277.3,"v":107},{"year":"2022","i":278.8,"v":99},{"year":"2022","i":280.2,"v":93},{"year":"2022","i":281.1,"v":101},{"year":"2022","i":282.2,"v":111},{"year":"2022","i":283.4,"v":126},{"year":"2022","i":285.1,"v":130},{"year":"2022","i":286.8,"v":133},{"year":"2022","i":288.8,"v":139},{"year":"2022","i":289.7,"v":130},{"year":"2022","i":290.9,"v":117},{"year":"2022","i":292.6,"v":114},{"year":"2022","i":293.7,"v":111},{"year":"2022","i":295.5,"v":107},{"year":"2022","i":296.6,"v":98},{"year":"2022","i":298.3,"v":88},{"year":"2022","i":300.3,"v":91},{"year":"2022","i":302.3,"v":93},{"year":"2022","i":304.1,"v":98},{"year":"2022","i":306.1,"v":107},{"year":"2022","i":307.5,"v":120},{"year":"2022","i":309,"v":117},{"year":"2022","i":310.4,"v":120},{"year":"2022","i":311.8,"v":117},{"year":"2022","i":313.3,"v":111},{"year":"2022","i":314.7,"v":107},{"year":"2022","i":316.1,"v":114},{"year":"2022","i":318.4,"v":126},{"year":"2022","i":320.4,"v":133},{"year":"2022","i":321.9,"v":142},{"year":"2022","i":323.3,"v":147},{"year":"2022","i":324.8,"v":147},{"year":"2022","i":326.2,"v":142},{"year":"2022","i":327.6,"v":134},{"year":"2022","i":329.1,"v":130},{"year":"2022","i":330.5,"v":123},{"year":"2022","i":331.9,"v":120},{"year":"2022","i":333.4,"v":111},{"year":"2022","i":334.8,"v":106},{"year":"2022","i":339.1,"v":107},{"year":"2022","i":340.6,"v":111},{"year":"2022","i":342.6,"v":114},{"year":"2022","i":344.9,"v":117},{"year":"2022","i":345.4,"v":103},{"year":"2022","i":347.2,"v":107},{"year":"2022","i":349.2,"v":114},{"year":"2022","i":351.2,"v":126},{"year":"2022","i":353.5,"v":146},{"year":"2022","i":354.9,"v":161},{"year":"2022","i":356.4,"v":168},{"year":"2022","i":357.8,"v":166},{"year":"2022","i":359.2,"v":152},{"year":"2022","i":360.7,"v":133},{"year":"2022","i":362.1,"v":128},{"year":"2022","i":363.6,"v":114},{"year":"2022","i":365.6,"v":104},{"year":"2022","i":367.3,"v":99},{"year":"2022","i":369.3,"v":104},{"year":"2022","i":370.7,"v":111},{"year":"2022","i":373,"v":112},{"year":"2022","i":375,"v":117},{"year":"2022","i":377,"v":130},{"year":"2022","i":378.8,"v":120},{"year":"2022","i":380.8,"v":120},{"year":"2022","i":382.8,"v":114},{"year":"2022","i":384.5,"v":107},{"year":"2022","i":386.3,"v":120},{"year":"2022","i":388,"v":146},{"year":"2022","i":389.4,"v":149},{"year":"2022","i":390.9,"v":155},{"year":"2022","i":392.3,"v":168},{"year":"2022","i":393.7,"v":165},{"year":"2022","i":395.2,"v":146},{"year":"2022","i":396.6,"v":138},{"year":"2022","i":398.9,"v":133},{"year":"2022","i":400.9,"v":123},{"year":"2022","i":402.4,"v":114},{"year":"2022","i":403.8,"v":123},{"year":"2022","i":405.8,"v":126},{"year":"2022","i":409.5,"v":128},{"year":"2022","i":411,"v":152},{"year":"2022","i":412.4,"v":142},{"year":"2022","i":414.4,"v":142},{"year":"2022","i":416.7,"v":146},{"year":"2022","i":418.1,"v":149},{"year":"2022","i":419.6,"v":206},{"year":"2022","i":421.9,"v":208},{"year":"2022","i":423,"v":219},{"year":"2022","i":424.8,"v":241},{"year":"2022","i":425.9,"v":268},{"year":"2022","i":427.6,"v":268},
{"year":"2021","i":22.4,"v":74},{"year":"2021","i":24.4,"v":77},{"year":"2021","i":25.9,"v":95},{"year":"2021","i":27.3,"v":99},{"year":"2021","i":32.2,"v":103},{"year":"2021","i":33.9,"v":104},{"year":"2021","i":35.9,"v":101},{"year":"2021","i":37.4,"v":123},{"year":"2021","i":38.8,"v":139},{"year":"2021","i":40.2,"v":146},{"year":"2021","i":41.7,"v":149},{"year":"2021","i":43.1,"v":149},{"year":"2021","i":44.5,"v":139},{"year":"2021","i":46,"v":117},{"year":"2021","i":48.3,"v":101},{"year":"2021","i":49.4,"v":88},{"year":"2021","i":51.7,"v":79},{"year":"2021","i":54.6,"v":79},{"year":"2021","i":56,"v":88},{"year":"2021","i":57.5,"v":95},{"year":"2021","i":58.9,"v":114},{"year":"2021","i":60.3,"v":120},{"year":"2021","i":62.6,"v":123},{"year":"2021","i":64.7,"v":117},{"year":"2021","i":67,"v":114},{"year":"2021","i":69,"v":101},{"year":"2021","i":70.4,"v":88},{"year":"2021","i":71.8,"v":79},{"year":"2021","i":73.3,"v":114},{"year":"2021","i":74.7,"v":130},{"year":"2021","i":77.6,"v":133},{"year":"2021","i":79,"v":155},{"year":"2021","i":79.9,"v":152},{"year":"2021","i":81,"v":139},{"year":"2021","i":82.5,"v":120},{"year":"2021","i":83.3,"v":99},{"year":"2021","i":84.8,"v":91},{"year":"2021","i":87.6,"v":91},{"year":"2021","i":89.1,"v":101},{"year":"2021","i":90.5,"v":117},{"year":"2021","i":92,"v":118},{"year":"2021","i":94.8,"v":117},{"year":"2021","i":97.7,"v":114},{"year":"2021","i":100.6,"v":111},{"year":"2021","i":102,"v":107},{"year":"2021","i":104,"v":114},{"year":"2021","i":105.7,"v":126},{"year":"2021","i":107.8,"v":133},{"year":"2021","i":109.2,"v":146},{"year":"2021","i":110.6,"v":149},{"year":"2021","i":112.1,"v":152},{"year":"2021","i":113.5,"v":146},{"year":"2021","i":114.9,"v":133},{"year":"2021","i":116.4,"v":126},{"year":"2021","i":117.8,"v":114},{"year":"2021","i":119.3,"v":101},{"year":"2021","i":120.7,"v":88},{"year":"2021","i":122.1,"v":91},{"year":"2021","i":123.6,"v":101},{"year":"2021","i":126.4,"v":98},{"year":"2021","i":127.9,"v":107},{"year":"2021","i":129.9,"v":123},{"year":"2021","i":133.6,"v":120},{"year":"2021","i":135.1,"v":117},{"year":"2021","i":136.5,"v":107},{"year":"2021","i":137.9,"v":114},{"year":"2021","i":140.2,"v":133},{"year":"2021","i":142.2,"v":138},{"year":"2021","i":143.7,"v":146},{"year":"2021","i":145.1,"v":152},{"year":"2021","i":146.6,"v":155},{"year":"2021","i":148,"v":146},{"year":"2021","i":149.4,"v":126},{"year":"2021","i":150.9,"v":107},{"year":"2021","i":152.3,"v":88},{"year":"2021","i":154.6,"v":69},{"year":"2021","i":156,"v":61},{"year":"2021","i":158,"v":61},{"year":"2021","i":159.5,"v":82},{"year":"2021","i":160.9,"v":104},{"year":"2021","i":162.4,"v":123},{"year":"2021","i":163.8,"v":133},{"year":"2021","i":166.1,"v":133},{"year":"2021","i":168.1,"v":126},{"year":"2021","i":170.1,"v":120},{"year":"2021","i":171.8,"v":114},{"year":"2021","i":173.9,"v":111},{"year":"2021","i":175.3,"v":104},{"year":"2021","i":176.7,"v":114},{"year":"2021","i":178.2,"v":123},{"year":"2021","i":180.5,"v":126},{"year":"2021","i":182.5,"v":128},{"year":"2021","i":183.9,"v":126},{"year":"2021","i":185.3,"v":120},{"year":"2021","i":186.8,"v":107},{"year":"2021","i":189.1,"v":101},{"year":"2021","i":191.1,"v":85},{"year":"2021","i":192.6,"v":88},{"year":"2021","i":194,"v":101},{"year":"2021","i":195.4,"v":111},{"year":"2021","i":197.7,"v":117},{"year":"2021","i":199.7,"v":120},{"year":"2021","i":201.8,"v":123},{"year":"2021","i":203.5,"v":123},{"year":"2021","i":205.5,"v":120},{"year":"2021","i":207.5,"v":117},{"year":"2021","i":209.2,"v":114},{"year":"2021","i":211.3,"v":117},{"year":"2021","i":214.1,"v":123},{"year":"2021","i":216.1,"v":133},{"year":"2021","i":218.4,"v":146},{"year":"2021","i":219.9,"v":139},{"year":"2021","i":221.9,"v":126},{"year":"2021","i":223.6,"v":114},{"year":"2021","i":225.6,"v":99},{"year":"2021","i":227.1,"v":98},{"year":"2021","i":228.5,"v":104},{"year":"2021","i":231.4,"v":114},{"year":"2021","i":232.8,"v":117},{"year":"2021","i":234.2,"v":114},{"year":"2021","i":236.3,"v":107},{"year":"2021","i":238.6,"v":114},{"year":"2021","i":240,"v":120},{"year":"2021","i":242,"v":104},{"year":"2021","i":243.4,"v":95},{"year":"2021","i":244.9,"v":107},{"year":"2021","i":246.6,"v":123},{"year":"2021","i":248.6,"v":139},{"year":"2021","i":250,"v":149},{"year":"2021","i":251.5,"v":152},{"year":"2021","i":253.5,"v":146},{"year":"2021","i":255.2,"v":126},{"year":"2021","i":256.4,"v":117},{"year":"2021","i":258.1,"v":107},{"year":"2021","i":260.1,"v":98},{"year":"2021","i":261.5,"v":88},{"year":"2021","i":263,"v":90},{"year":"2021","i":265,"v":99},{"year":"2021","i":266.7,"v":107},{"year":"2021","i":268.7,"v":114},{"year":"2021","i":270.7,"v":120},{"year":"2021","i":272.5,"v":128},{"year":"2021","i":274.5,"v":123},{"year":"2021","i":276.5,"v":120},{"year":"2021","i":278.2,"v":111},{"year":"2021","i":280.2,"v":101},{"year":"2021","i":282.2,"v":107},{"year":"2021","i":284.5,"v":117},{"year":"2021","i":287.4,"v":120},{"year":"2021","i":288.8,"v":126},{"year":"2021","i":290.3,"v":130},{"year":"2021","i":291.7,"v":120},{"year":"2021","i":293.2,"v":107},{"year":"2021","i":294.6,"v":101},{"year":"2021","i":296,"v":98},{"year":"2021","i":298.3,"v":101},{"year":"2021","i":300.3,"v":104},{"year":"2021","i":302.3,"v":107},{"year":"2021","i":304.1,"v":114},{"year":"2021","i":306.1,"v":120},{"year":"2021","i":307.5,"v":117},{"year":"2021","i":309.8,"v":114},{"year":"2021","i":311.8,"v":107},{"year":"2021","i":313.8,"v":101},{"year":"2021","i":315.3,"v":91},{"year":"2021","i":316.7,"v":104},{"year":"2021","i":318.4,"v":120},{"year":"2021","i":320.4,"v":134},{"year":"2021","i":322.5,"v":142},{"year":"2021","i":324.8,"v":142},{"year":"2021","i":327.1,"v":133},{"year":"2021","i":329.1,"v":120},{"year":"2021","i":330.5,"v":111},{"year":"2021","i":331.9,"v":95},{"year":"2021","i":333.4,"v":95},{"year":"2021","i":337.7,"v":98},{"year":"2021","i":339.7,"v":101},{"year":"2021","i":341.4,"v":107},{"year":"2021","i":343.4,"v":114},{"year":"2021","i":344.9,"v":120},{"year":"2021","i":347.2,"v":126},{"year":"2021","i":349.2,"v":133},{"year":"2021","i":351.2,"v":138},{"year":"2021","i":353.5,"v":142},{"year":"2021","i":355.8,"v":149},{"year":"2021","i":357.8,"v":150},{"year":"2021","i":359.8,"v":142},{"year":"2021","i":361.5,"v":130},{"year":"2021","i":363,"v":114},{"year":"2021","i":364.4,"v":95},{"year":"2021","i":365.9,"v":85},{"year":"2021","i":367.3,"v":87},{"year":"2021","i":369.3,"v":98},{"year":"2021","i":371.3,"v":107},{"year":"2021","i":373.6,"v":114},{"year":"2021","i":375.9,"v":120},{"year":"2021","i":377.9,"v":123},{"year":"2021","i":379.3,"v":120},{"year":"2021","i":380.8,"v":117},{"year":"2021","i":382.8,"v":111},{"year":"2021","i":384.5,"v":99},{"year":"2021","i":386,"v":107},{"year":"2021","i":388,"v":126},{"year":"2021","i":389.4,"v":134},{"year":"2021","i":390.9,"v":139},{"year":"2021","i":393.2,"v":146},{"year":"2021","i":394.3,"v":144},{"year":"2021","i":396,"v":133},{"year":"2021","i":398,"v":123},{"year":"2021","i":400,"v":114},{"year":"2021","i":401.8,"v":101},{"year":"2021","i":403.8,"v":114},{"year":"2021","i":405.8,"v":118},{"year":"2021","i":409.5,"v":120},{"year":"2021","i":411,"v":133},{"year":"2021","i":412.7,"v":152},{"year":"2021","i":414.4,"v":154},{"year":"2021","i":416.1,"v":146},{"year":"2021","i":418.1,"v":152},{"year":"2021","i":419.6,"v":165},{"year":"2021","i":421.9,"v":174},{"year":"2021","i":423,"v":184},{"year":"2021","i":424.8,"v":206},{"year":"2021","i":425.9,"v":232},{"year":"2021","i":427.1,"v":263}
]
},
"hconcat": [
{
  "width": 517, "height": 314,
  "data": {"name": "L"},
  "mark": {"type": "line", "strokeJoin": "round"},
  "encoding": {
    "x": {"field": "i", "type": "quantitative", "scale": {"domain": [0, 446], "nice": false, "zero": false},
      "axis": {"values": [19,43,67,91,115,139,163,187,211,235,259,283,307,331,355,379,403], "labelExpr": "['09 янв','30 янв','20 фев','13 мар','03 апр','24 апр','15 май','05 июн','26 июн','17 июл','07 авг','28 авг','18 сен','09 окт','30 окт','20 ноя','11 дек'][round((datum.value-19)/24)]", "labelAngle": 270, "labelAlign": "right", "labelBaseline": "middle", "labelFontSize": 25, "labelPadding": 15, "grid": false, "labelOverlap": false, "labelFlush": false}},
    "y": {"field": "v", "type": "quantitative", "scale": {"domain": [0, 400], "nice": false},
      "axis": {"values": [0,100,200,300,400], "labelFontSize": 26, "labelPadding": 14, "grid": true, "gridColor": "#c6c6c6", "gridWidth": 1, "minExtent": 66, "maxExtent": 66}},
    "color": {"field": "year", "type": "nominal", "scale": {"domain": ["2021","2022","2023"], "range": ["#808080","#262626","#e8112d"]},
      "legend": {"orient": "none", "legendX": 37, "legendY": 425, "direction": "horizontal", "title": null, "symbolType": "stroke", "symbolSize": 2916, "labelFontSize": 26, "labelOffset": 21, "columnPadding": 17}},
    "strokeDash": {"field": "year", "type": "nominal", "scale": {"domain": ["2021","2022","2023"], "range": [[6,4],[1,0],[1,0]]},
      "legend": {"orient": "none", "legendX": 37, "legendY": 425, "direction": "horizontal", "title": null, "symbolType": "stroke", "symbolSize": 2916, "labelFontSize": 26, "labelOffset": 21, "columnPadding": 17}},
    "strokeWidth": {"field": "year", "type": "nominal", "scale": {"domain": ["2021","2022","2023"], "range": [2, 2.5, 4]},
      "legend": {"orient": "none", "legendX": 37, "legendY": 425, "direction": "horizontal", "title": null, "symbolType": "stroke", "symbolSize": 2916, "labelFontSize": 26, "labelOffset": 21, "columnPadding": 17}}
  }
},
{
  "width": 513, "height": 314,
  "data": {"name": "R"},
  "mark": {"type": "line", "strokeJoin": "round"},
  "encoding": {
    "x": {"field": "i", "type": "quantitative", "scale": {"domain": [0, 442], "nice": false, "zero": false},
      "axis": {"values": [19,43,67,91,115,139,163,187,211,235,259,283,307,331,355,379,403], "labelExpr": "['09 янв','30 янв','20 фев','13 мар','03 апр','24 апр','15 май','05 июн','26 июн','17 июл','07 авг','28 авг','18 сен','09 окт','30 окт','20 ноя','11 дек'][round((datum.value-19)/24)]", "labelAngle": 270, "labelAlign": "right", "labelBaseline": "middle", "labelFontSize": 25, "labelPadding": 15, "grid": false, "labelOverlap": false, "labelFlush": false}},
    "y": {"field": "v", "type": "quantitative", "scale": {"domain": [0, 300], "nice": false},
      "axis": {"values": [0,100,200,300], "labelFontSize": 26, "labelPadding": 14, "grid": true, "gridColor": "#c6c6c6", "gridWidth": 1, "minExtent": 66, "maxExtent": 66}},
    "color": {"field": "year", "type": "nominal", "scale": {"domain": ["2021","2022","2023"], "range": ["#808080","#262626","#e8112d"]},
      "legend": {"orient": "none", "legendX": 38, "legendY": 425, "direction": "horizontal", "title": null, "symbolType": "stroke", "symbolSize": 2916, "labelFontSize": 26, "labelOffset": 21, "columnPadding": 17}},
    "strokeDash": {"field": "year", "type": "nominal", "scale": {"domain": ["2021","2022","2023"], "range": [[6,4],[1,0],[1,0]]},
      "legend": {"orient": "none", "legendX": 38, "legendY": 425, "direction": "horizontal", "title": null, "symbolType": "stroke", "symbolSize": 2916, "labelFontSize": 26, "labelOffset": 21, "columnPadding": 17}},
    "strokeWidth": {"field": "year", "type": "nominal", "scale": {"domain": ["2021","2022","2023"], "range": [2, 2.5, 4]},
      "legend": {"orient": "none", "legendX": 38, "legendY": 425, "direction": "horizontal", "title": null, "symbolType": "stroke", "symbolSize": 2916, "labelFontSize": 26, "labelOffset": 21, "columnPadding": 17}}
  }
}
],
"resolve": {"scale": {"x": "independent", "y": "independent", "color": "independent", "strokeDash": "independent", "strokeWidth": "independent"}, "legend": {"color": "independent", "strokeDash": "independent", "strokeWidth": "independent"}}
}
